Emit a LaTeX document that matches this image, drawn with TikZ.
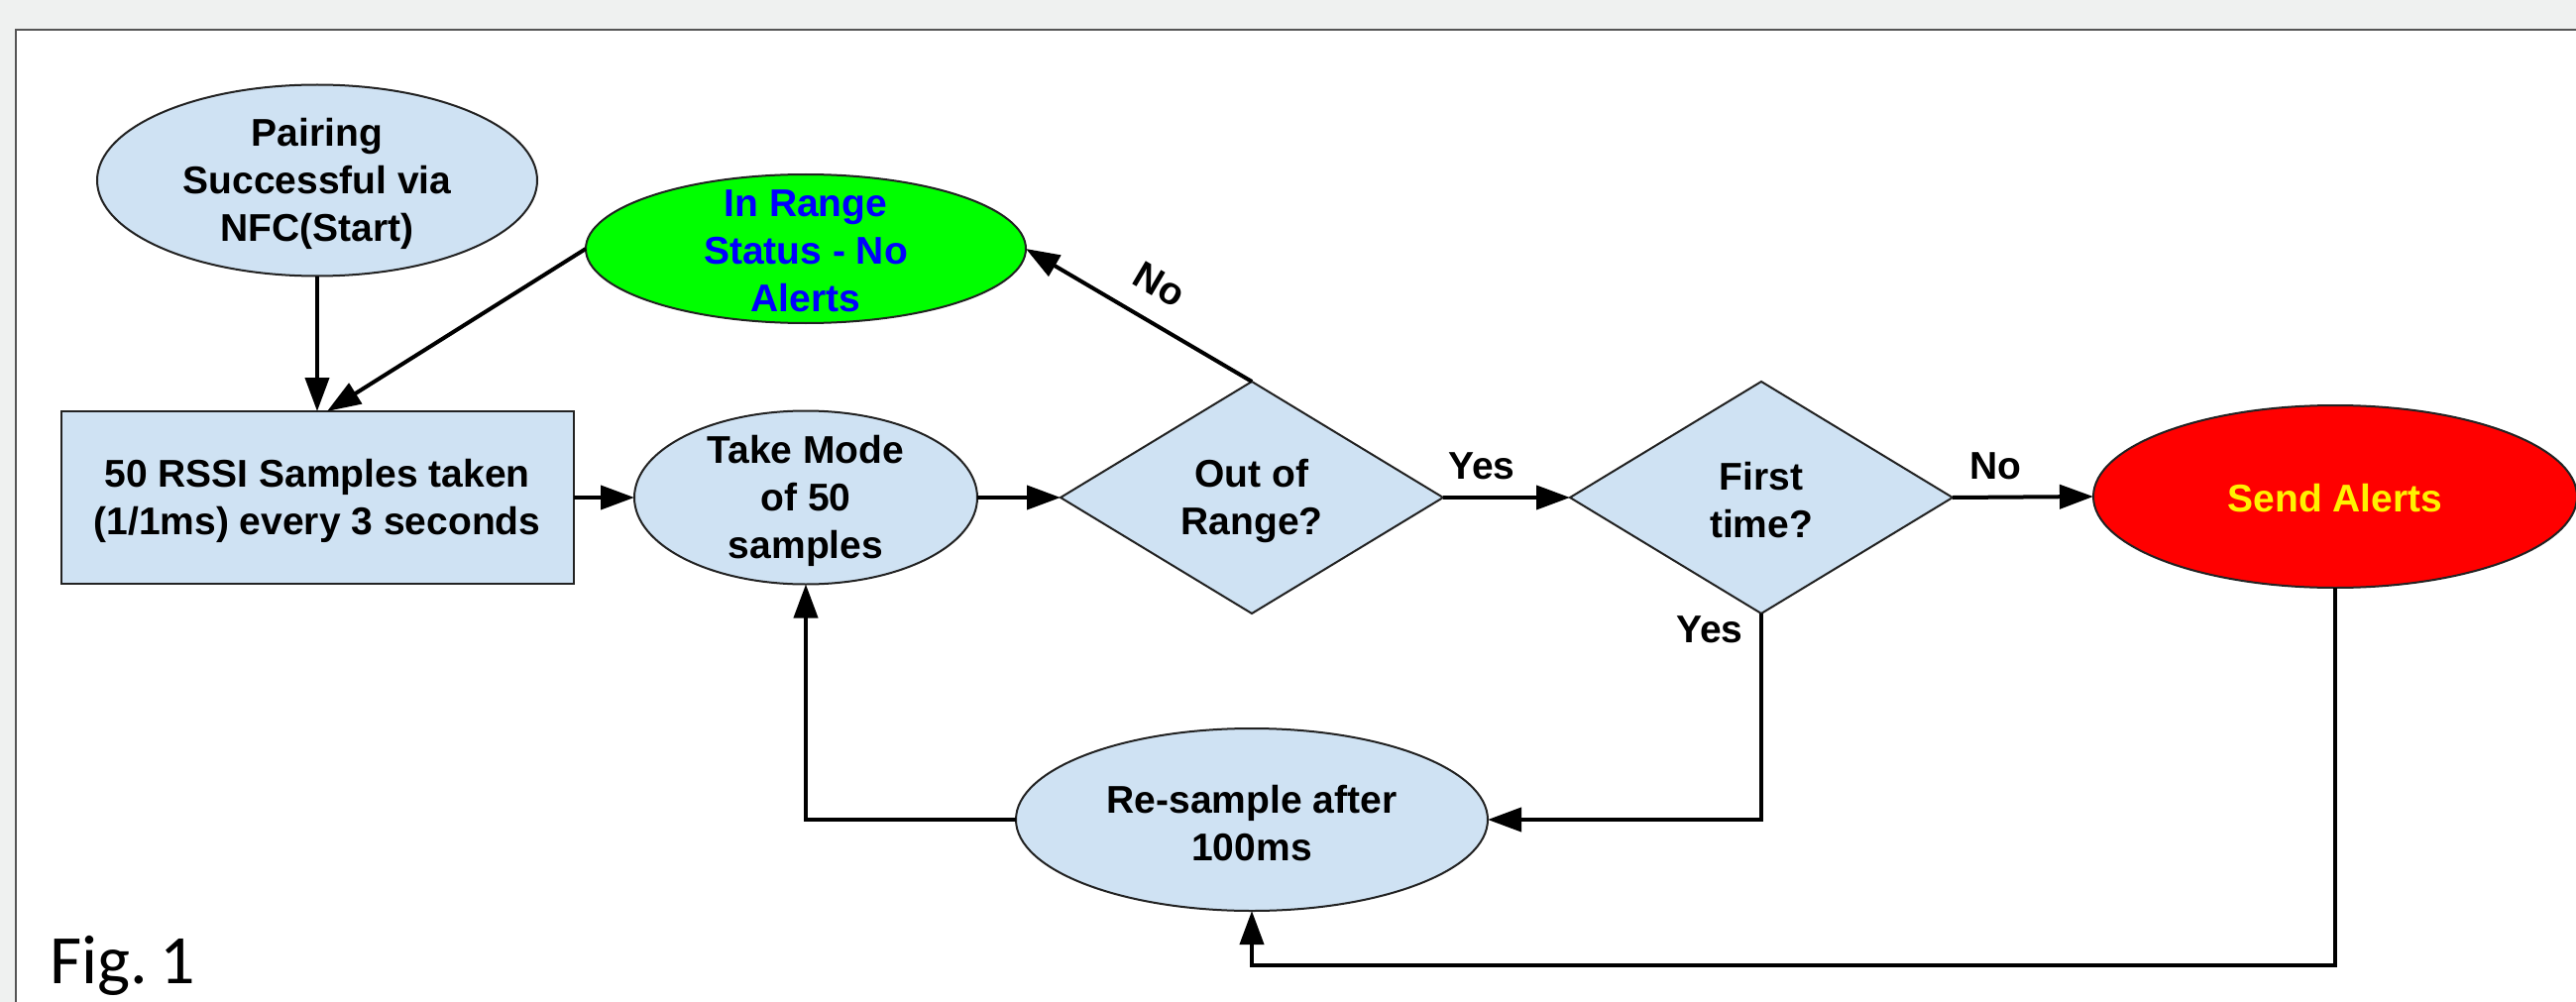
\documentclass[tikz,border=0pt]{standalone}
\usepackage{fontspec}
\setmainfont{Liberation Sans}
\newfontfamily\figfont{Carlito}
\usetikzlibrary{shapes.geometric,arrows.meta,calc}
\definecolor{lblue}{HTML}{CFE2F3}
\definecolor{bggray}{HTML}{EFF1F0}
\definecolor{framegray}{HTML}{555555}
\definecolor{edgegray}{HTML}{222222}
\begin{document}
\begin{tikzpicture}[x=1pt,y=-1pt,
  shapebase/.style={draw=edgegray,line width=2pt,inner sep=0pt,outer sep=0pt},
  ell/.style={shapebase,ellipse,fill=lblue},
  boxshape/.style={shapebase,rectangle,fill=lblue},
  dia/.style={shapebase,diamond,fill=lblue},
  txt/.style={align=center,font=\bfseries\fontsize{39}{48}\selectfont,inner sep=0pt},
  lbl/.style={font=\bfseries\fontsize{39}{48}\selectfont,inner sep=0pt},
  arr/.style={line width=4pt,-{Triangle[length=34pt,width=24pt]}},
  ln/.style={line width=3.5pt}
]
\useasboundingbox (0,0) rectangle (2599,1011);
\fill[bggray] (0,0) rectangle (2599,1011);
\fill[white] (16,30) rectangle (2599,1011);
\draw[framegray,line width=2.5pt] (16,1011) -- (16,30) -- (2599,30);

% shapes
\node[ell,minimum width=444pt,minimum height=193pt] (start) at (320,182) {};
\node[txt] (starttxt) at (320,185) {Pairing\\Successful via\\NFC(Start)};

\node[ell,fill=green,minimum width=444pt,minimum height=150pt] (inrange) at (813,251) {};
\node[txt,text=blue] (inrangetxt) at (813,253) {In Range\\Status - No\\Alerts};

\node[boxshape,minimum width=517pt,minimum height=174pt] (rect) at (320,502) {};
\node[txt] (recttxt) at (320,505) {50 RSSI Samples taken\\(1/1ms) every 3 seconds};

\node[ell,minimum width=346pt,minimum height=175pt] (mode) at (813,502) {};
\node[txt] (modetxt) at (813,505) {Take Mode\\of 50\\samples};

\node[dia,minimum width=386pt,minimum height=234pt] (oor) at (1263,502) {};
\node[txt] (oortxt) at (1263,505) {Out of\\Range?};

\node[dia,minimum width=386pt,minimum height=234pt] (first) at (1777,502) {};
\node[txt] (firsttxt) at (1777,505) {First\\time?};

\node[ell,fill=red,minimum width=488pt,minimum height=184pt] (send) at (2356,501) {};
\node[txt,text=yellow] (sendtxt) at (2356,503) {Send Alerts};

\node[ell,minimum width=476pt,minimum height=184pt] (resample) at (1263,827) {};
\node[txt] (resampletxt) at (1263,831) {Re-sample after\\100ms};

% connectors
\draw[arr] (start.south) -- (rect.north);
\draw[arr] (inrange.west) -- ([xshift=10pt]rect.north);
\draw[arr] (rect.east) -- (mode.west);
\draw[arr] (mode.east) -- (oor.west);
\draw[arr] (oor.north) -- (inrange.east);
\draw[arr] (oor.east) -- (first.west);
\draw[arr] (first.east) -- (send.west);
\draw[arr] (first.south) |- (resample.east);
\coordinate (bottomturn) at (send.south |- 0,974);
\draw[arr] (send.south) -- (bottomturn) -| (resample.south);
\draw[arr] (resample.west) -| (mode.south);

% labels
\node[lbl,rotate=-30.5] (lno1) at (1170,287) {No};
\node[lbl] (lyes1) at (1495,470) {Yes};
\node[lbl] (lno2) at (2013,470) {No};
\node[lbl] (lyes2) at (1725,635) {Yes};

\node[anchor=base west,inner sep=0pt,font=\figfont\fontsize{70}{80}\selectfont] (fig) at (50,992) {Fig.\hspace{0.18em}1};
\end{tikzpicture}
\end{document}
